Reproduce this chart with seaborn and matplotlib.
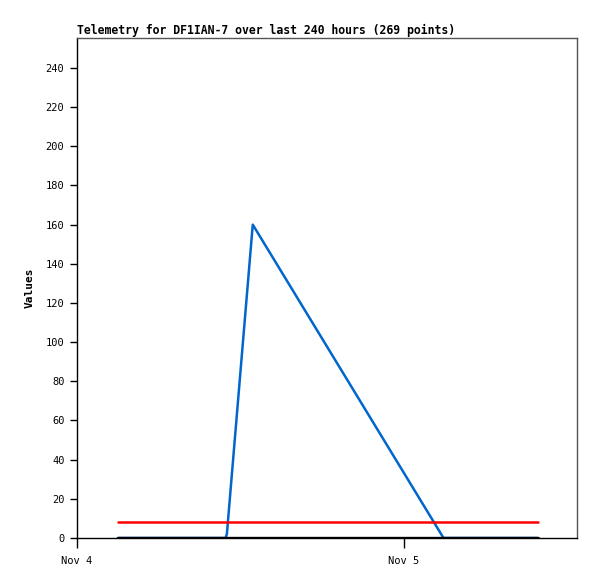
import numpy as np
import pandas as pd
import matplotlib
matplotlib.use("Agg")
import matplotlib.pyplot as plt
import matplotlib.dates as mdates
import seaborn as sns

# hours after Nov 4 00:00
base = pd.Timestamp("2023-11-04 00:00")
blue_hours  = [3.0, 10.9, 11.0, 12.9, 26.9, 33.8]
blue_values = [0, 0, 2, 160, 0, 0]
red_hours   = [3.0, 33.8]
red_values  = [8, 8]
black_hours = [3.0, 33.8]
black_values = [0, 0]

title = "Telemetry for DF1IAN-7 over last 240 hours (269 points)"
ylabel = "Values"

def to_df(hours, values):
	return pd.DataFrame({"t": [base + pd.Timedelta(hours=h) for h in hours], "v": values})

sns.set_style("ticks")
plt.rcParams['font.family'] = ['DejaVu Sans Mono']
plt.rcParams['text.color'] = 'black'
plt.rcParams['axes.labelcolor'] = 'black'
plt.rcParams['xtick.color'] = 'black'
plt.rcParams['ytick.color'] = 'black'

fig = plt.figure(figsize=(5.97, 5.79), dpi=100)
ax = fig.add_axes([77/597, 41/579, 500/597, 500/579])

sns.lineplot(data=to_df(blue_hours, blue_values), x="t", y="v", ax=ax, color="#0066cc", linewidth=1.8)
sns.lineplot(data=to_df(red_hours, red_values), x="t", y="v", ax=ax, color="#ff0000", linewidth=1.8)
sns.lineplot(data=to_df(black_hours, black_values), x="t", y="v", ax=ax, color="#000000", linewidth=2.4)

ax.set_xlim(base, base + pd.Timedelta(hours=500/327*24))
ax.set_ylim(0, 255.3)
ax.set_yticks(np.arange(0, 241, 20))
ax.set_xticks([base, base + pd.Timedelta(days=1)])
ax.xaxis.set_major_formatter(mdates.DateFormatter("%b %-d"))
ax.tick_params(axis="both", direction="out", length=5, width=1, labelsize=7.5, colors="black", pad=4)
ax.tick_params(axis="x", length=7, pad=6)
for s in ax.spines.values():
	s.set_visible(True)
	s.set_color("black")
	s.set_linewidth(1)
ax.spines["right"].set_color("#555555")
ax.spines["top"].set_color("#555555")

ax.set_xlabel("")
ax.set_ylabel(ylabel, fontsize=8, fontweight="bold", labelpad=8)
ax.set_title(title, loc="left", fontsize=8.3, fontweight="bold", pad=3)

fig.savefig("out.png", dpi=100)
